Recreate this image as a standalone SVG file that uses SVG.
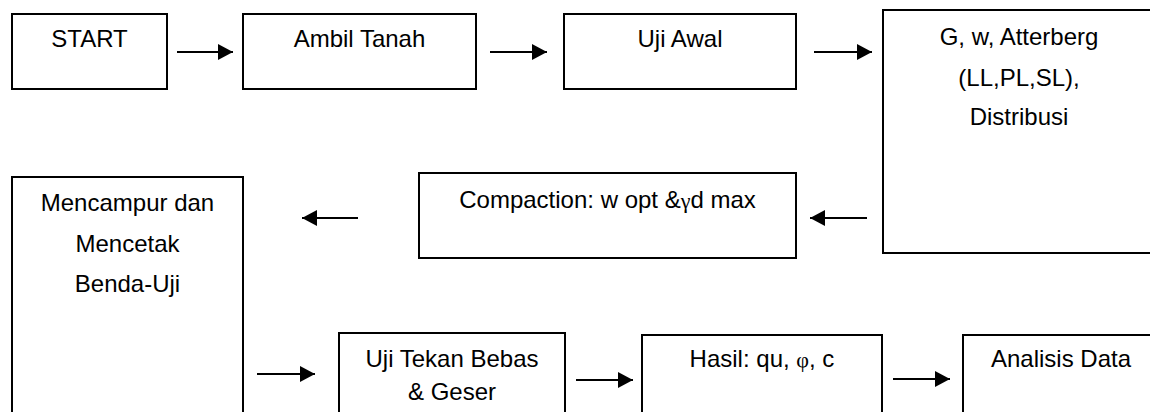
<svg xmlns="http://www.w3.org/2000/svg" width="1150" height="412" viewBox="0 0 1150 412">
  <style>
    rect.box { fill: #ffffff; stroke: #000000; stroke-width: 2; }
    text { font-family: "Liberation Sans", Arial, sans-serif; font-size: 24px; fill: #000000; text-anchor: middle; }
    .greek { font-family: "Liberation Serif", "Times New Roman", serif; font-size: 22px; }
    line.arrow { stroke: #000000; stroke-width: 2.2; marker-end: url(#head); }
  </style>
  <defs>
    <marker id="head" markerUnits="userSpaceOnUse" markerWidth="16" markerHeight="16" refX="15" refY="8" orient="auto">
      <path d="M0,0 L15,8 L0,16 Z" fill="#000000"/>
    </marker>
  </defs>
  <rect width="1150" height="412" fill="#ffffff"/>

  <g id="start">
    <rect class="box" x="12" y="14" width="155" height="75"/>
    <text x="89.5" y="47">START</text>
  </g>

  <g id="ambil-tanah">
    <rect class="box" x="243" y="14" width="233" height="75"/>
    <text x="359.5" y="47">Ambil Tanah</text>
  </g>

  <g id="uji-awal">
    <rect class="box" x="564" y="14" width="232" height="75"/>
    <text x="680" y="47">Uji Awal</text>
  </g>

  <g id="uji-indeks">
    <rect class="box" x="883" y="10" width="280" height="243"/>
    <text x="1019" y="45">G, w, Atterberg</text>
    <text x="1019" y="86">(LL,PL,SL),</text>
    <text x="1019" y="125">Distribusi</text>
  </g>

  <g id="compaction">
    <rect class="box" x="419" y="173" width="377" height="85"/>
    <text x="607.5" y="208">Compaction: w opt &amp;<tspan class="greek">γ</tspan>d max</text>
  </g>

  <g id="mencampur">
    <rect class="box" x="12" y="177" width="231" height="260"/>
    <text x="127.5" y="211">Mencampur dan</text>
    <text x="127.5" y="252">Mencetak</text>
    <text x="127.5" y="292">Benda-Uji</text>
  </g>

  <g id="uji-tekan">
    <rect class="box" x="339" y="333" width="226" height="100"/>
    <text x="452" y="367">Uji Tekan Bebas</text>
    <text x="452" y="400">&amp; Geser</text>
  </g>

  <g id="hasil">
    <rect class="box" x="642" y="335" width="240" height="100"/>
    <text x="762" y="367">Hasil: qu, <tspan class="greek">φ</tspan>, c</text>
  </g>

  <g id="analisis">
    <rect class="box" x="963" y="335" width="200" height="100"/>
    <text x="1061" y="367">Analisis Data</text>
  </g>

  <g id="connectors">
    <line class="arrow" x1="177" y1="52" x2="233" y2="52"/>
    <line class="arrow" x1="490" y1="52" x2="547" y2="52"/>
    <line class="arrow" x1="814" y1="52" x2="872" y2="52"/>
    <line class="arrow" x1="867" y1="218" x2="810" y2="218"/>
    <line class="arrow" x1="358" y1="218" x2="302" y2="218"/>
    <line class="arrow" x1="257" y1="374" x2="315" y2="374"/>
    <line class="arrow" x1="576" y1="380" x2="633" y2="380"/>
    <line class="arrow" x1="893" y1="379" x2="950" y2="379"/>
  </g>
</svg>
